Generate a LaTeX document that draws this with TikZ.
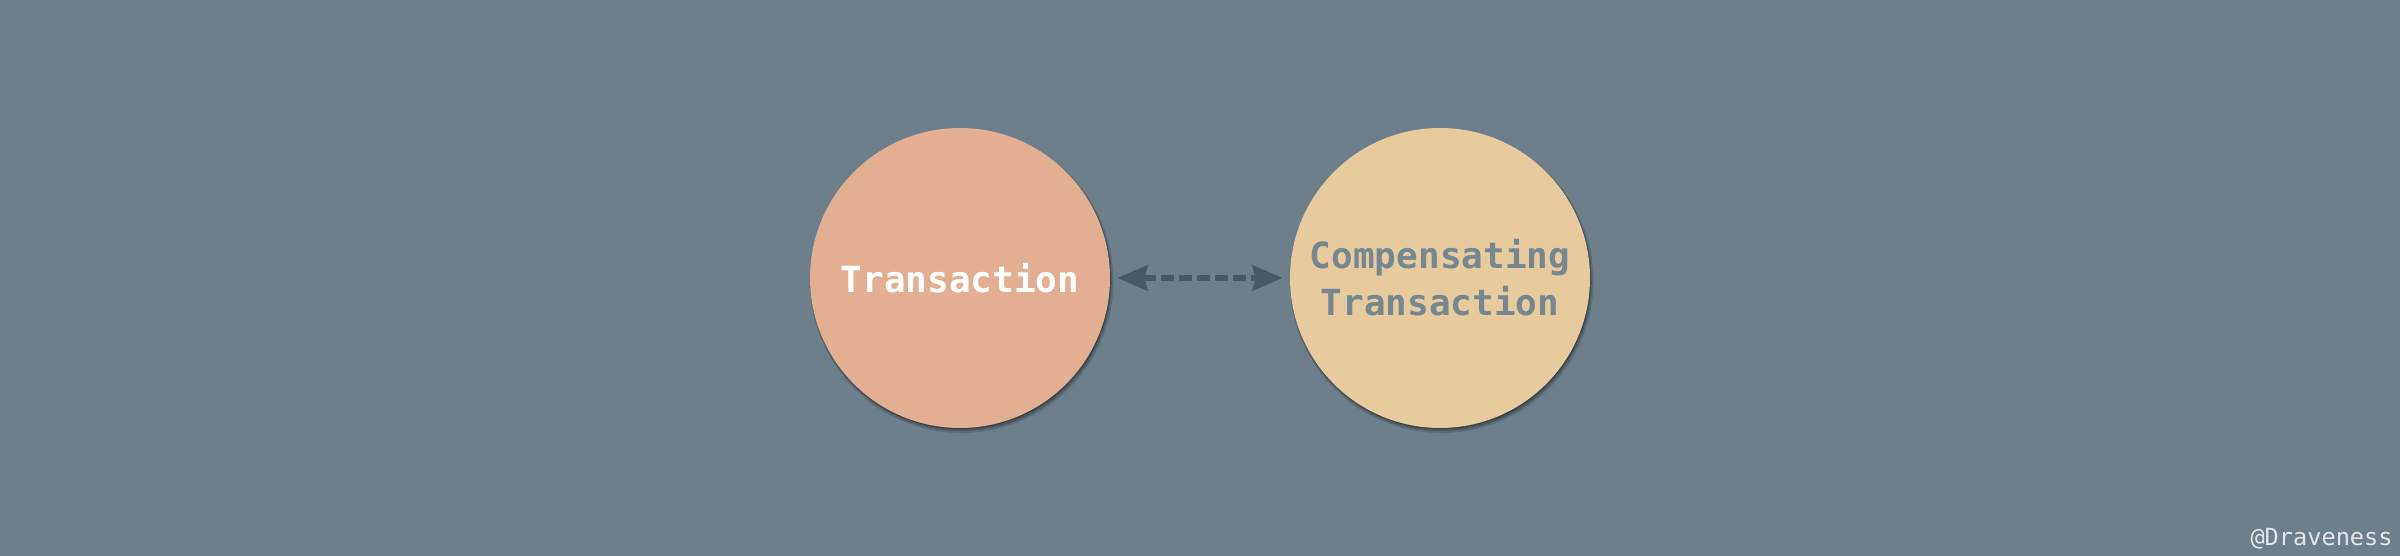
\documentclass[tikz,border=0pt]{standalone}
\usepackage{fontspec}
\setmonofont{DejaVu Sans Mono}
\usetikzlibrary{arrows.meta,shadows}
\definecolor{bgcolor}{HTML}{6D7F8B}
\definecolor{txcolor}{HTML}{E2AF92}
\definecolor{cpcolor}{HTML}{E7CB9E}
\definecolor{cptext}{HTML}{76878F}
\definecolor{arrcolor}{HTML}{485965}
\definecolor{markcolor}{HTML}{E4E6E8}

\begin{document}
\begin{tikzpicture}[x=1pt,y=1pt,
	state/.style={circle, minimum size=150pt, inner sep=0pt,
		font=\ttfamily\bfseries\fontsize{18}{23.5}\selectfont, align=center,
		drop shadow={shadow xshift=0.8pt, shadow yshift=-1.6pt, shadow scale=1.012, opacity=0.15, fill=black},
		drop shadow={shadow xshift=0.6pt, shadow yshift=-1.2pt, shadow scale=1.004, opacity=0.2, fill=black},
		drop shadow={shadow xshift=0.3pt, shadow yshift=-0.6pt, opacity=0.25, fill=black}}]
		\def \gap {3.5}
		
		\fill[bgcolor] (0,0) rectangle (1200,278);
		\useasboundingbox (0,0) rectangle (1200,278);
		
		\node[state, fill=txcolor, text=white] (tx) at (480,139) {Transaction};
		\node[state, fill=cpcolor, text=cptext] (cp) at (720,139) {Compensating\\Transaction};
		
		\draw[arrcolor, line width=3pt, dash pattern=on 6.5pt off 2.5pt,
			{Stealth[length=15pt,width=12.5pt,inset=1.5pt]}-{Stealth[length=15pt,width=12.5pt,inset=1.5pt]},
			shorten <=\gap pt, shorten >=\gap pt] (tx) -- (cp);
		
		\node[anchor=base east, inner sep=0pt, text=markcolor,
			font=\ttfamily\fontsize{11.8}{14}\selectfont] (mark) at (1196.5,5) {@Draveness};
\end{tikzpicture}
\end{document}
